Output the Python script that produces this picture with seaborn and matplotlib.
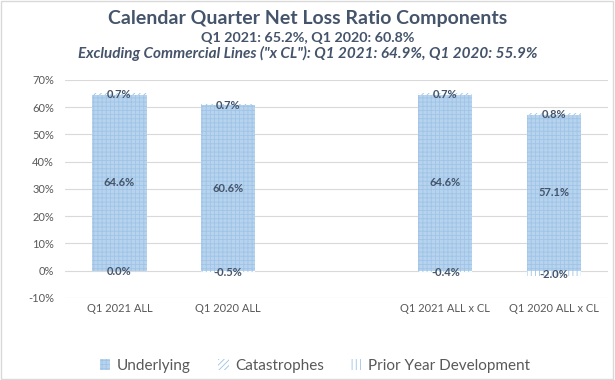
import matplotlib
matplotlib.use("Agg")
import matplotlib.pyplot as plt
import seaborn as sns
import pandas as pd
import numpy as np
from matplotlib.patches import Patch
from matplotlib.ticker import FuncFormatter

# chart data
categories = ["Q1 2021 ALL", "Q1 2020 ALL", " ", "Q1 2021 ALL x CL", "Q1 2020 ALL x CL"]
underlying = [64.6, 60.6, np.nan, 64.6, 57.1]
catastrophes = [0.7, 0.7, np.nan, 0.7, 0.8]
prior_year = [0.0, -0.5, np.nan, -0.4, -2.0]
y_ticks = [-10, 0, 10, 20, 30, 40, 50, 60, 70]

title = "Calendar Quarter Net Loss Ratio Components"
subtitle1 = "Q1 2021: 65.2%, Q1 2020: 60.8%"
subtitle2 = 'Excluding Commercial Lines ("x CL"): Q1 2021: 64.9%, Q1 2020: 55.9%'

sns.set_style("white")
plt.rcParams["font.family"] = ["Lato", "DejaVu Sans"]
plt.rcParams["hatch.linewidth"] = 0.6

df = pd.DataFrame({
    "category": categories,
    "underlying": underlying,
    "catastrophes": catastrophes,
    "prior_year": prior_year,
})
df["total"] = df["underlying"] + df["catastrophes"]

fig = plt.figure(figsize=(6.15, 3.8), dpi=100)
ax = fig.add_axes([0.106, 0.216, 0.883, 0.574])

text_col = "#44546a"
grey = "#595959"

for y in y_ticks:
    ax.axhline(y, color="#d9d9d9", lw=0.8, zorder=0)

bar_w = 0.5
# catastrophes drawn as total, underlying on top of it
sns.barplot(data=df, x="category", y="total", order=categories, ax=ax,
            color="white", edgecolor="#9dc3e6", linewidth=0, hatch="//////",
            width=bar_w, saturation=1, zorder=2)
sns.barplot(data=df, x="category", y="underlying", order=categories, ax=ax,
            color="#b7d3ee", edgecolor="#9fc4e8", linewidth=0, hatch="++++",
            width=bar_w, saturation=1, zorder=3)
sns.barplot(data=df, x="category", y="prior_year", order=categories, ax=ax,
            color="white", edgecolor="#9dc3e6", linewidth=0, hatch="||||",
            width=bar_w, saturation=1, zorder=2)

for i, row in df.iterrows():
    if np.isnan(row["underlying"]):
        continue
    ax.text(i, row["underlying"] / 2, f"{row['underlying']:.1f}%", ha="center",
            va="center", fontsize=8, fontweight="bold", color=text_col, zorder=5)
    ax.text(i, row["total"] - 0.8, f"{row['catastrophes']:.1f}%", ha="center",
            va="center", fontsize=8, fontweight="bold", color=text_col, zorder=5)
    ax.text(i, row["prior_year"] / 2 - 0.3, f"{row['prior_year']:.1f}%", ha="center",
            va="center", fontsize=8, fontweight="bold", color=text_col, zorder=5)

ax.set_ylim(-10, 70)
ax.set_yticks(y_ticks)
ax.yaxis.set_major_formatter(FuncFormatter(lambda v, p: f"{v:.0f}%"))
ax.set_xlim(-0.5, len(categories) - 0.5)
ax.set_xlabel("")
ax.set_ylabel("")
ax.tick_params(axis="both", length=0, labelsize=8, colors=grey)
ax.tick_params(axis="y", pad=8)
ax.tick_params(axis="x", pad=4)
sns.despine(ax=ax, left=True, bottom=True)

fig.text(0.5, 0.952, title, ha="center", va="center", fontsize=14,
         fontweight="bold", color=text_col)
fig.text(0.5, 0.901, subtitle1, ha="center", va="center", fontsize=10.3,
         fontweight="bold", color=text_col)
fig.text(0.5, 0.860, subtitle2, ha="center", va="center", fontsize=11,
         fontweight="bold", fontstyle="italic", color=text_col)

handles = [
    Patch(facecolor="#b7d3ee", edgecolor="#9fc4e8", hatch="++++", linewidth=0),
    Patch(facecolor="white", edgecolor="#9dc3e6", hatch="//////", linewidth=0),
    Patch(facecolor="white", edgecolor="#9dc3e6", hatch="||||", linewidth=0),
]
fig.legend(handles, ["Underlying", "Catastrophes", "Prior Year Development"],
           loc="center", bbox_to_anchor=(0.512, 0.037), ncol=3, frameon=False,
           fontsize=11, labelcolor=grey, handlelength=0.7, handleheight=0.7,
           handletextpad=0.4, columnspacing=1.8)

fig.patches.append(plt.Rectangle((0.002, 0.003), 0.994, 0.994, transform=fig.transFigure,
                                 fill=False, edgecolor="#d9d9d9", lw=1))

fig.savefig("out.png", dpi=100)
